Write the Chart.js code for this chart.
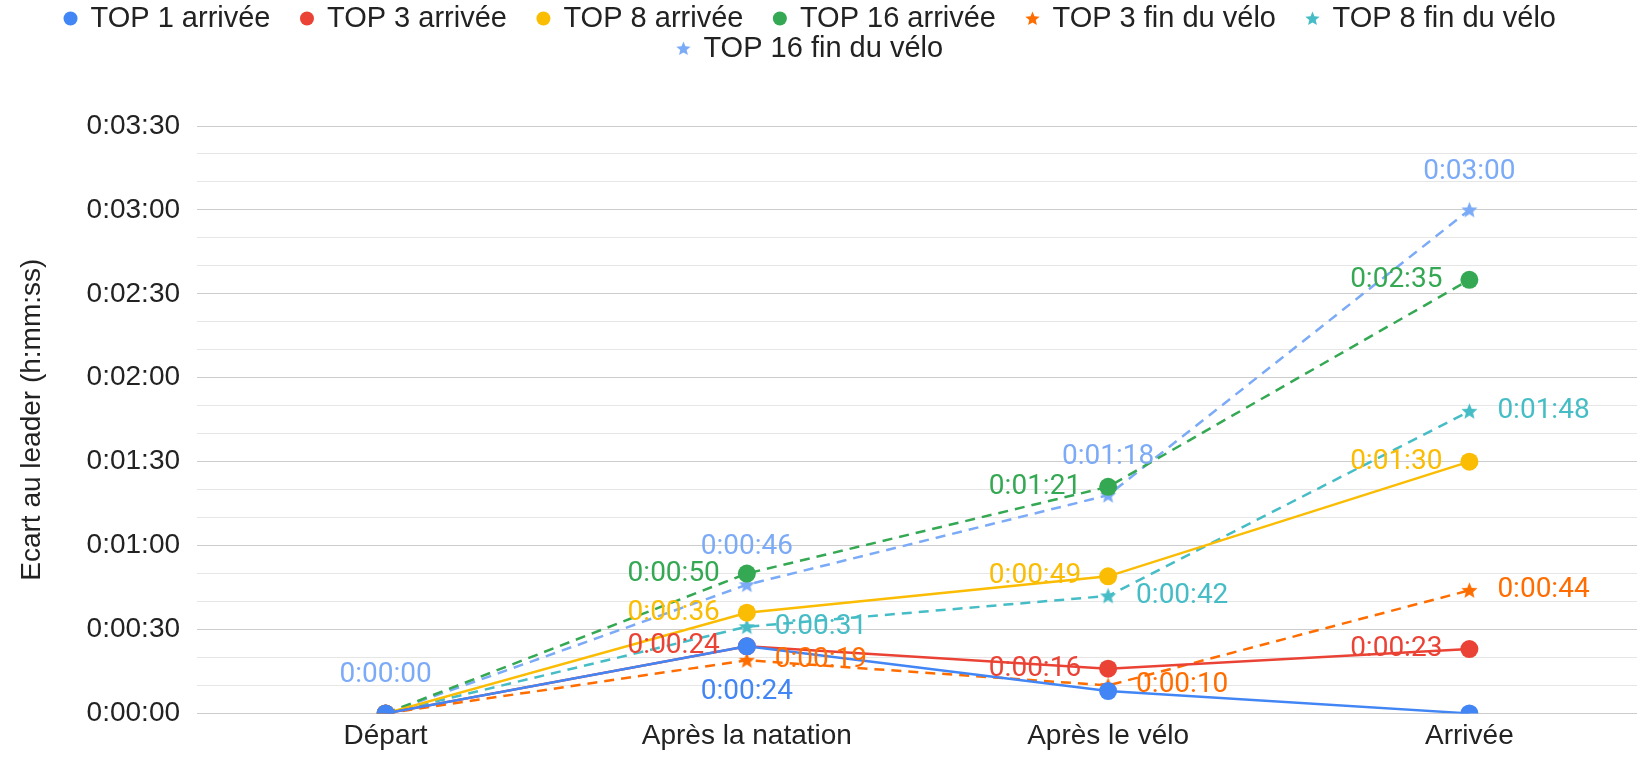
<!DOCTYPE html>
<html lang="fr">
<head>
<meta charset="UTF-8">
<title>Ecart au leader</title>
<script src="https://cdn.jsdelivr.net/npm/chart.js"></script>
<style>
  html, body { margin: 0; padding: 0; background: #fff; }
  #wrap { width: 1646px; height: 760px; }
</style>
</head>
<body>
<div id="wrap"><canvas id="gapChart"></canvas></div>
<script>
// catégories et écarts (en secondes)
const categories = ['Départ', 'Après la natation', 'Après le vélo', 'Arrivée'];
const top1Arrivee = [0, 24, 8, 0];
const top3Arrivee = [0, 24, 16, 23];
const top8Arrivee = [0, 36, 49, 90];
const top16Arrivee = [0, 50, 81, 155];
const top3FinVelo = [0, 19, 10, 44];
const top8FinVelo = [0, 31, 42, 108];
const top16FinVelo = [0, 46, 78, 180];
const yTicks = [0, 30, 60, 90, 120, 150, 180, 210];

const FONT = "'Liberation Sans', Arial, sans-serif";
Chart.defaults.font.family = FONT;
Chart.defaults.color = '#222';

// h:mm:ss
function fmt(sec) {
  const h = Math.floor(sec / 3600);
  const m = Math.floor((sec % 3600) / 60);
  const s = Math.round(sec % 60);
  return h + ':' + String(m).padStart(2, '0') + ':' + String(s).padStart(2, '0');
}

// étoile pleine à 5 branches
function starImage(color, size) {
  const c = document.createElement('canvas');
  c.width = size; c.height = size;
  const g = c.getContext('2d');
  const R = size / 2, r = R * 0.45;
  g.beginPath();
  for (let i = 0; i < 10; i++) {
    const rad = i % 2 === 0 ? R : r;
    const a = -Math.PI / 2 + i * Math.PI / 5;
    g.lineTo(R + rad * Math.cos(a), R + 0.5 + rad * Math.sin(a));
  }
  g.closePath();
  g.fillStyle = color;
  g.fill();
  return c;
}

function lineSet(label, data, color, dashed, star, place, idx) {
  return {
    label: label,
    data: data,
    borderColor: color,
    backgroundColor: color,
    borderWidth: 2.5,
    borderDash: dashed ? [10, 7] : [],
    tension: 0,
    pointStyle: star ? starImage(color, 17) : 'circle',
    legendStar: star ? starImage(color, 15) : null,
    pointRadius: 9,
    pointBorderWidth: 0,
    labelPlace: place,
    labelIdx: idx
  };
}

const datasets = [
  lineSet('TOP 1 arrivée', top1Arrivee, '#4285F4', false, false, 'below', [1]),
  lineSet('TOP 3 arrivée', top3Arrivee, '#EA4335', false, false, 'left', [1, 2, 3]),
  lineSet('TOP 8 arrivée', top8Arrivee, '#FBBC04', false, false, 'left', [1, 2, 3]),
  lineSet('TOP 16 arrivée', top16Arrivee, '#34A853', true, false, 'left', [1, 2, 3]),
  lineSet('TOP 3 fin du vélo', top3FinVelo, '#FF6D01', true, true, 'right', [1, 2, 3]),
  lineSet('TOP 8 fin du vélo', top8FinVelo, '#46BDC6', true, true, 'right', [1, 2, 3]),
  lineSet('TOP 16 fin du vélo', top16FinVelo, '#7BAAF7', true, true, 'above', [0, 1, 2, 3])
];

// étiquettes de valeurs
const valueLabels = {
  id: 'valueLabels',
  afterDatasetsDraw(chart) {
    const ctx = chart.ctx;
    ctx.save();
    ctx.font = "28px Roboto, 'Liberation Sans', sans-serif";
    ctx.textBaseline = 'middle';
    chart.data.datasets.forEach((ds, i) => {
      const meta = chart.getDatasetMeta(i);
      ds.labelIdx.forEach(j => {
        const pt = meta.data[j];
        const txt = fmt(ds.data[j]);
        ctx.fillStyle = ds.borderColor;
        let x = pt.x, y = pt.y;
        if (ds.labelPlace === 'left') { ctx.textAlign = 'right'; x -= 27; }
        else if (ds.labelPlace === 'right') { ctx.textAlign = 'left'; x += 28; }
        else if (ds.labelPlace === 'above') { ctx.textAlign = 'center'; y -= 38; }
        else { ctx.textAlign = 'center'; y += 46; }
        ctx.fillText(txt, x, y);
      });
    });
    ctx.restore();
  }
};

// espace sous la légende
const legendGap = {
  id: 'legendGap',
  beforeInit(chart) {
    const fit = chart.legend.fit;
    chart.legend.fit = function () {
      fit.bind(chart.legend)();
      this.height += 53;
    };
  }
};

new Chart(document.getElementById('gapChart'), {
  type: 'line',
  data: {
    labels: categories.map((c, i) => i),
    datasets: datasets
  },
  plugins: [valueLabels, legendGap],
  options: {
    responsive: true,
    maintainAspectRatio: false,
    animation: false,
    layout: { padding: { left: 5, right: 0, top: 3, bottom: 1 } },
    plugins: {
      tooltip: { enabled: false },
      legend: {
        position: 'top',
        labels: {
          usePointStyle: true,
          boxWidth: 11,
          boxHeight: 9.9,
          padding: 1,
          color: '#222',
          font: { size: 29, family: FONT },
          generateLabels(chart) {
            const items = Chart.defaults.plugins.legend.labels.generateLabels(chart);
            items.forEach(it => {
              const ds = chart.data.datasets[it.datasetIndex];
              if (ds.legendStar) it.pointStyle = ds.legendStar;
              it.text = it.text + '   \u2009';
              it.lineWidth = 0;
              it.lineDash = [];
            });
            return items;
          }
        }
      }
    },
    scales: {
      x: {
        type: 'linear',
        min: -0.522,
        max: 3.464,
        grid: { display: false, drawTicks: false },
        border: { display: false },
        afterBuildTicks(scale) {
          scale.ticks = categories.map((c, i) => ({ value: i }));
        },
        ticks: {
          padding: 6,
          autoSkip: false,
          maxRotation: 0,
          color: '#222',
          font: { size: 28, family: FONT },
          callback: v => categories[v]
        }
      },
      y: {
        min: 0,
        max: 210,
        border: { display: false },
        grid: {
          drawTicks: false,
          color: c => yTicks.includes(c.tick.value) ? '#cccccc' : '#e6e6e6'
        },
        ticks: {
          stepSize: 10,
          padding: 17,
          autoSkip: false,
          color: '#222',
          font: { size: 28, family: FONT },
          callback: v => yTicks.includes(v) ? fmt(v) : ''
        },
        title: {
          display: true,
          text: 'Ecart au leader (h:mm:ss)',
          color: '#222',
          padding: { top: 10, bottom: 21 },
          font: { size: 28, family: FONT }
        }
      }
    }
  }
});
</script>
</body>
</html>
